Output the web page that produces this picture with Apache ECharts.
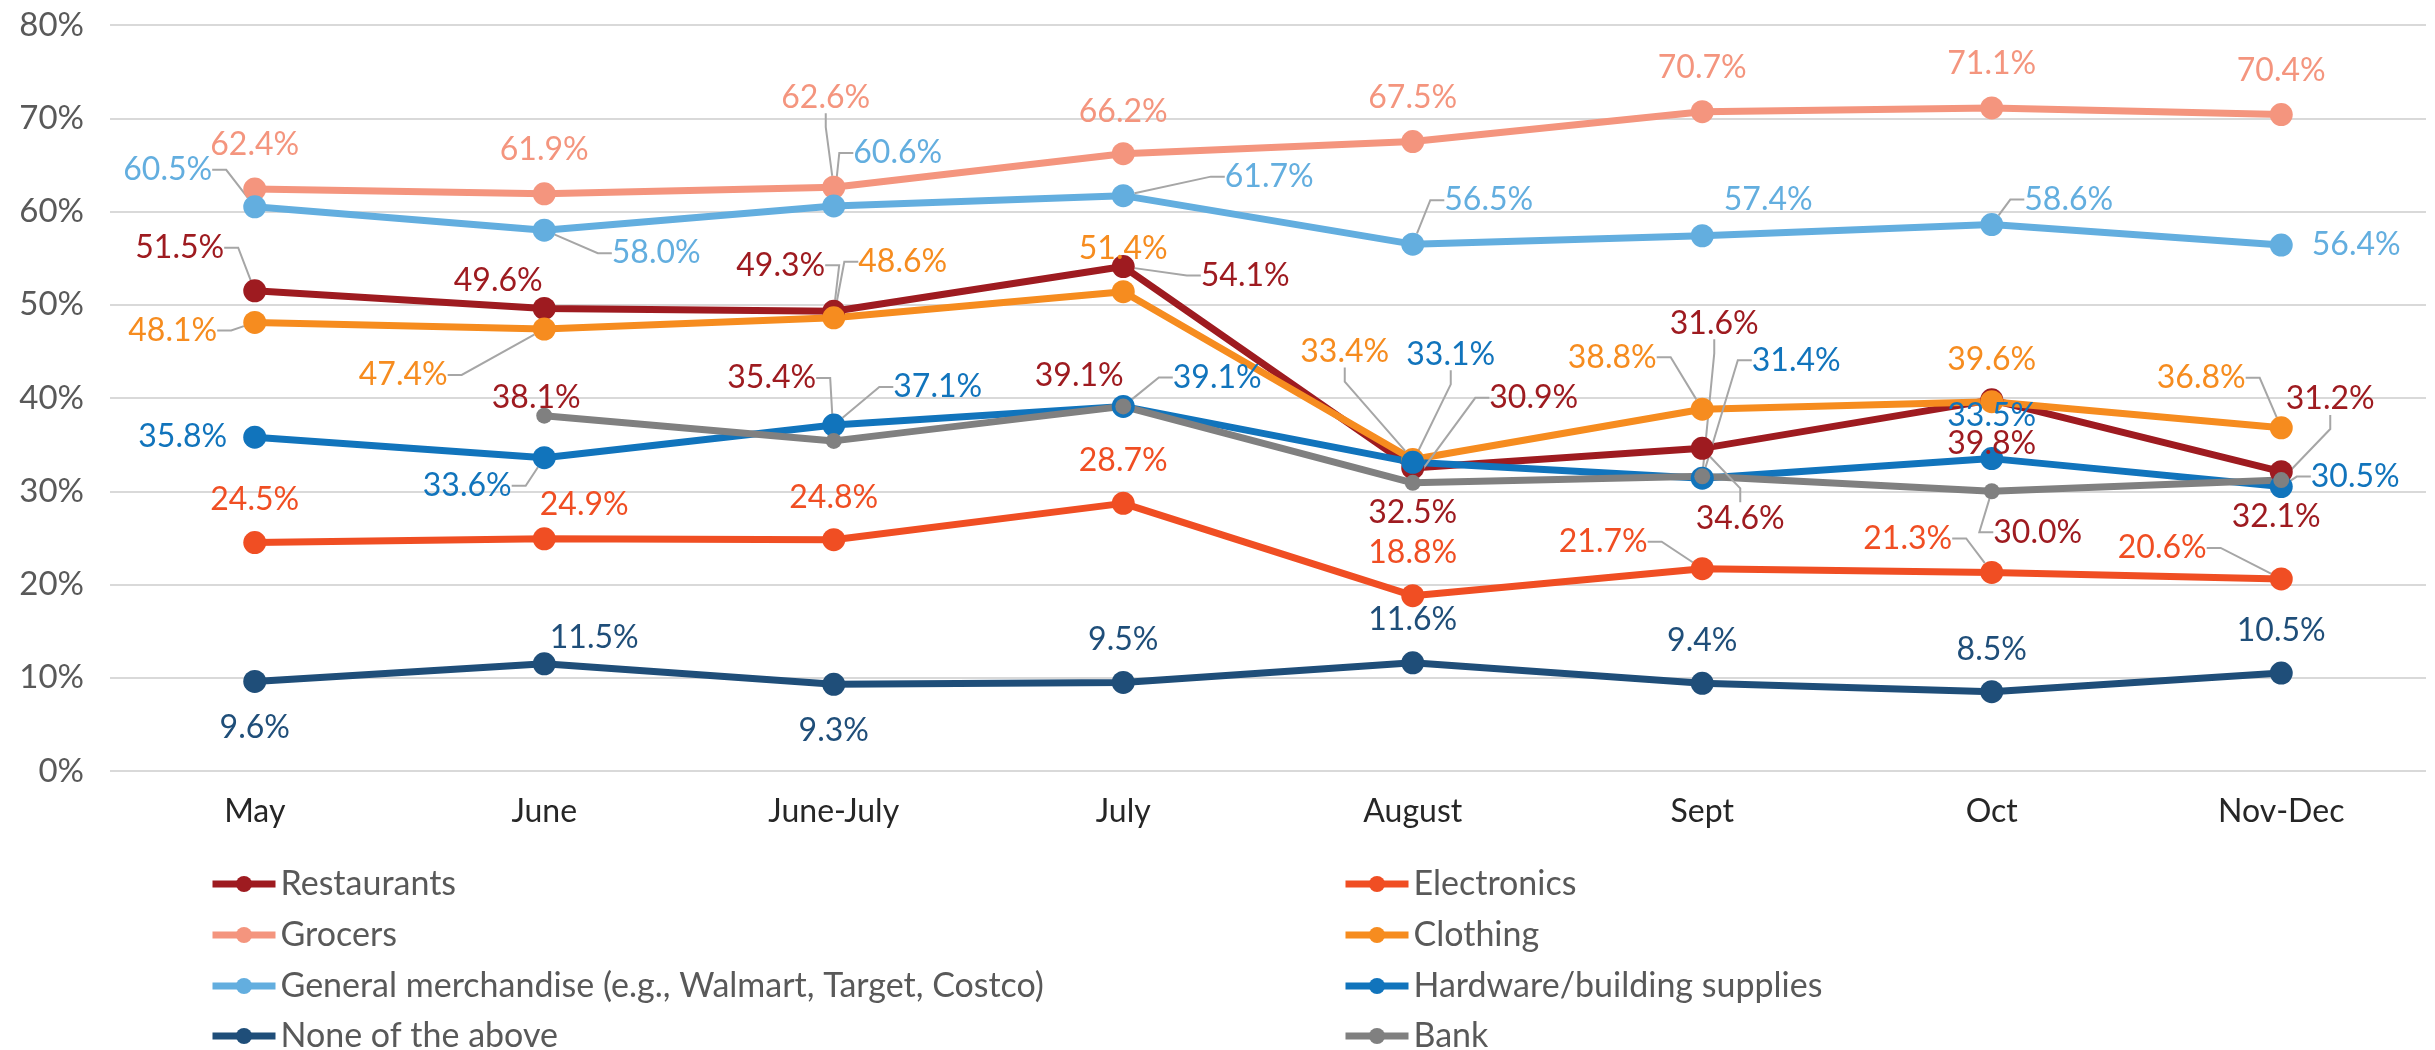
<!DOCTYPE html>
<html>
<head>
<meta charset="utf-8">
<title>Shopping by month</title>
<script src="https://cdn.jsdelivr.net/npm/echarts/dist/echarts.min.js"></script>
<style>
  html, body { margin: 0; padding: 0; background: #ffffff; }
  #chart { width: 2435px; height: 1050px; }
</style>
</head>
<body>
<div id="chart"></div>
<script>
// categories and values
var months = ['May', 'June', 'June-July', 'July', 'August', 'Sept', 'Oct', 'Nov-Dec'];
var yTicks = [0, 10, 20, 30, 40, 50, 60, 70, 80];

var restaurants = [51.5, 49.6, 49.3, 54.1, 32.5, 34.6, 39.8, 32.1];
var electronics = [24.5, 24.9, 24.8, 28.7, 18.8, 21.7, 21.3, 20.6];
var grocers = [62.4, 61.9, 62.6, 66.2, 67.5, 70.7, 71.1, 70.4];
var clothing = [48.1, 47.4, 48.6, 51.4, 33.4, 38.8, 39.6, 36.8];
var generalMerch = [60.5, 58.0, 60.6, 61.7, 56.5, 57.4, 58.6, 56.4];
var hardware = [35.8, 33.6, 37.1, 39.1, 33.1, 31.4, 33.5, 30.5];
var noneAbove = [9.6, 11.5, 9.3, 9.5, 11.6, 9.4, 8.5, 10.5];
var bank = [null, 38.1, 35.4, 39.1, 30.9, 31.6, 30.0, 31.2];

// label placement (px offset of label centre from the point) and leader lines
var labelOffsets = [
  [[-75, -43], [-46, -28], [-53, -46], [122, 9], [0, 45], [38, 70], [0, 44], [-5, 45]],
  [[0, -43], [40, -34], [0, -42], [0, -43], [0, -43], [-99, -27], [-84, -34], [-119, -31]],
  [[0, -44], [0, -44], [-8, -90], [0, -42], [0, -44], [0, -44], [0, -44], [0, -44]],
  [[-82, 8], [-141, 46], [69, -56], [0, -43], [-68, -108], [-90, -52], [0, -42], [-80, -50]],
  [[-87, -37], [112, 23], [64, -53], [146, -19], [76, -44], [66, -36], [77, -25], [75, 0]],
  [[-72, 0], [-77, 28], [104, -38], [94, -29], [38, -108], [94, -118], [0, -43], [74, -10]],
  [[0, 46], [50, -26], [0, 46], [0, -43], [0, -43], [0, -43], [0, -42], [0, -42]],
  [[0, 0], [-8, -18], [-62, -63], [-44, -31], [121, -85], [12, -153], [46, 41], [49, -81]]
];
var leaders = [
  [1, 0, 1, 1, 0, 1, 0, 0],
  [0, 0, 0, 0, 0, 1, 1, 1],
  [0, 0, 1, 0, 0, 0, 0, 0],
  [1, 1, 1, 0, 1, 1, 0, 1],
  [1, 1, 1, 1, 1, 0, 1, 0],
  [0, 1, 1, 1, 1, 1, 0, 1],
  [0, 0, 0, 0, 0, 0, 0, 0],
  [0, 0, 1, 0, 1, 1, 1, 1]
];

var FONT = 'Lato';

var seriesDefs = [
  { name: 'Restaurants', data: restaurants, color: '#9E1B20', labelColor: '#9E1B20' },
  { name: 'Electronics', data: electronics, color: '#F04E23', labelColor: '#F04E23' },
  { name: 'Grocers', data: grocers, color: '#F4957E', labelColor: '#F4957E' },
  { name: 'Clothing', data: clothing, color: '#F68C1F', labelColor: '#F68C1F' },
  { name: 'General merchandise (e.g., Walmart, Target, Costco)', data: generalMerch, color: '#63AEDF', labelColor: '#63AEDF' },
  { name: 'Hardware/building supplies', data: hardware, color: '#1174BC', labelColor: '#1174BC' },
  { name: 'None of the above', data: noneAbove, color: '#1F4E79', labelColor: '#1F4E79' },
  { name: 'Bank', data: bank, color: '#808080', labelColor: '#9E1B20', small: true }
];

var series = seriesDefs.map(function (s, si) {
  return {
    name: s.name,
    type: 'line',
    data: s.data.map(function (v, i) {
      return { value: v, labelLine: { show: !!leaders[si][i] } };
    }),
    symbol: 'circle',
    symbolSize: s.small ? 16 : 23,
    showAllSymbol: true,
    connectNulls: false,
    lineStyle: { color: s.color, width: 7 },
    itemStyle: { color: s.color },
    label: {
      show: true,
      color: s.labelColor,
      fontFamily: FONT,
      fontSize: 32,
      formatter: function (p) { return p.value.toFixed(1) + '%'; }
    },
    labelLine: {
      length2: 14,
      lineStyle: { color: '#A6A6A6', width: 2 }
    },
    labelLayout: function (params) {
      var o = labelOffsets[params.seriesIndex][params.dataIndex];
      var r = params.rect;
      return {
        x: r.x + r.width / 2 + o[0],
        y: r.y + r.height / 2 + o[1],
        align: 'center',
        verticalAlign: 'middle'
      };
    }
  };
});

// legend: two columns of four rows, one legend per entry
var legendCols = [209, 1342];
var legendRows = [884, 935, 986, 1036];
var legends = seriesDefs.map(function (s, i) {
  return {
    orient: 'horizontal',
    left: legendCols[i % 2],
    top: legendRows[Math.floor(i / 2)] - 18,
    padding: 0,
    itemWidth: 63,
    itemHeight: 20,
    lineStyle: { width: 7 },
    textStyle: { fontFamily: FONT, fontSize: 34, color: '#595959', lineHeight: 36 },
    data: [s.name]
  };
});

var chart = echarts.init(document.getElementById('chart'));
chart.setOption({
  animation: false,
  backgroundColor: '#ffffff',
  grid: { left: 110, right: 9, top: 25, bottom: 279 },
  legend: legends,
  xAxis: {
    type: 'category',
    data: months,
    boundaryGap: true,
    axisLine: { show: false },
    axisTick: { show: false },
    axisLabel: { fontFamily: FONT, fontSize: 32, color: '#262626', margin: 25 }
  },
  yAxis: {
    type: 'value',
    min: yTicks[0],
    max: yTicks[yTicks.length - 1],
    interval: 10,
    axisLine: { show: false },
    axisTick: { show: false },
    splitLine: { lineStyle: { color: '#D9D9D9', width: 2 } },
    axisLabel: { fontFamily: FONT, fontSize: 33, color: '#595959', margin: 26, formatter: '{value}%' }
  },
  series: series
});
</script>
</body>
</html>
